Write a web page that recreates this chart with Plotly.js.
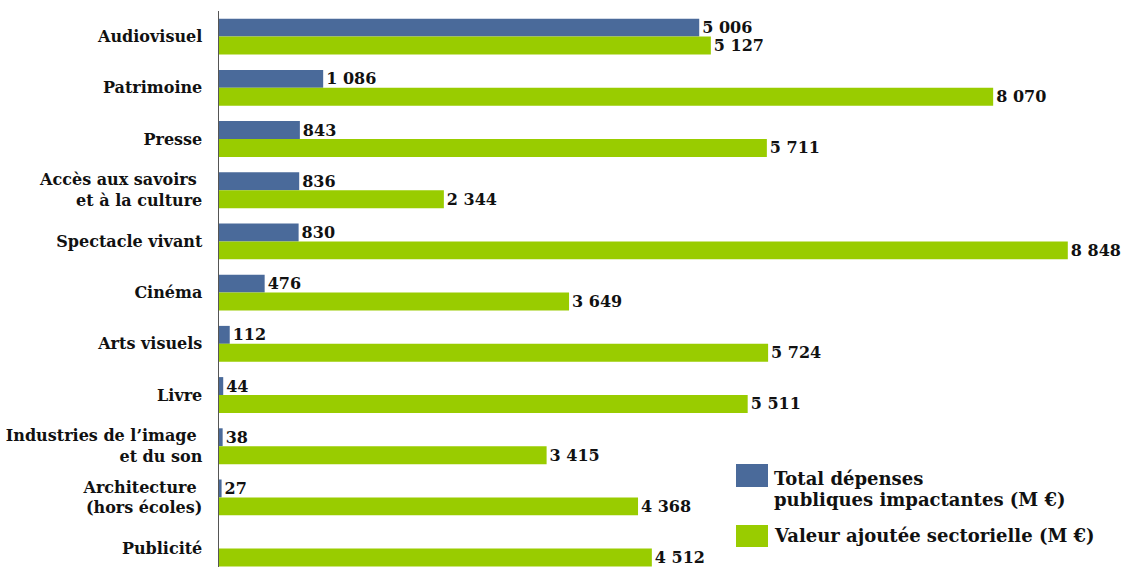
<!DOCTYPE html>
<html>
<head>
<meta charset="utf-8">
<script src="https://cdn.plot.ly/plotly-3.0.1.min.js"></script>
<style>html,body{margin:0;padding:0;background:#fff;}#chart{width:1125px;height:567px;}</style>
</head>
<body>
<div id="chart"></div>
<script>
const categories = [
  'Audiovisuel',
  'Patrimoine',
  'Presse',
  'Accès aux savoirs\u00A0<br>et à la culture',
  'Spectacle vivant',
  'Cinéma',
  'Arts visuels',
  'Livre',
  'Industries de l’image\u00A0<br>et du son',
  'Architecture\u00A0<br>(hors écoles)',
  'Publicité'
];
const depenses = [5006, 1086, 843, 836, 830, 476, 112, 44, 38, 27, null];
const valeurAjoutee = [5127, 8070, 5711, 2344, 8848, 3649, 5724, 5511, 3415, 4368, 4512];
const seriesNames = ['Total dépenses<br>publiques impactantes (M €)', 'Valeur ajoutée sectorielle (M €)'];
const seriesColors = ['#4A6A9A', '#99CC00'];

function fmt(v) {
  if (v === null || v === undefined) return '';
  return String(v).replace(/\B(?=(\d{3})+(?!\d))/g, ' ');
}

const W = 1125, H = 567;
const M = {l: 219, r: 43, t: 11, b: 0};
const PW = W - M.l - M.r, PH = H - M.t - M.b;
const px = x => (x - M.l) / PW;
const py = y => 1 - (y - M.t) / PH;

const font = {family: '"DejaVu Serif", serif', size: 16, color: '#111', weight: 'bold'};
const legendFont = Object.assign({}, font, {size: 18});

const traces = [depenses, valeurAjoutee].map((vals, i) => ({
  type: 'bar',
  orientation: 'h',
  y: categories,
  x: vals,
  name: seriesNames[i],
  marker: {color: seriesColors[i]},
  text: vals.map(fmt),
  textposition: 'outside',
  textfont: font,
  cliponaxis: false,
  constraintext: 'none',
  hoverinfo: 'skip',
  showlegend: false
}));

const legendLines = [
  {text: seriesNames[0].split('<br>')[0], y: 478},
  {text: seriesNames[0].split('<br>')[1], y: 499},
  {text: seriesNames[1], y: 535}
];

const layout = {
  width: W, height: H,
  margin: M,
  paper_bgcolor: '#fff', plot_bgcolor: '#fff',
  barmode: 'group',
  bargap: 0.3,
  bargroupgap: 0,
  font: font,
  xaxis: {range: [0, 8996], visible: false, fixedrange: true},
  yaxis: {
    type: 'category',
    range: [10.359, -0.5],
    showline: true, linecolor: '#555', linewidth: 1.5,
    showgrid: false, zeroline: false,
    ticks: '', ticklabelstandoff: 12,
    tickfont: font, automargin: false
  },
  shapes: [
    {type: 'rect', xref: 'paper', yref: 'paper', x0: px(736), x1: px(768), y0: py(487), y1: py(464), fillcolor: seriesColors[0], line: {width: 0}},
    {type: 'rect', xref: 'paper', yref: 'paper', x0: px(736), x1: px(768), y0: py(547), y1: py(525), fillcolor: seriesColors[1], line: {width: 0}}
  ],
  annotations: legendLines.map(l => ({
    xref: 'paper', yref: 'paper', x: px(772), y: py(l.y),
    xanchor: 'left', yanchor: 'middle', align: 'left', showarrow: false,
    text: l.text, font: legendFont
  }))
};

Plotly.newPlot('chart', traces, layout, {displayModeBar: false, staticPlot: true});
</script>
</body>
</html>
